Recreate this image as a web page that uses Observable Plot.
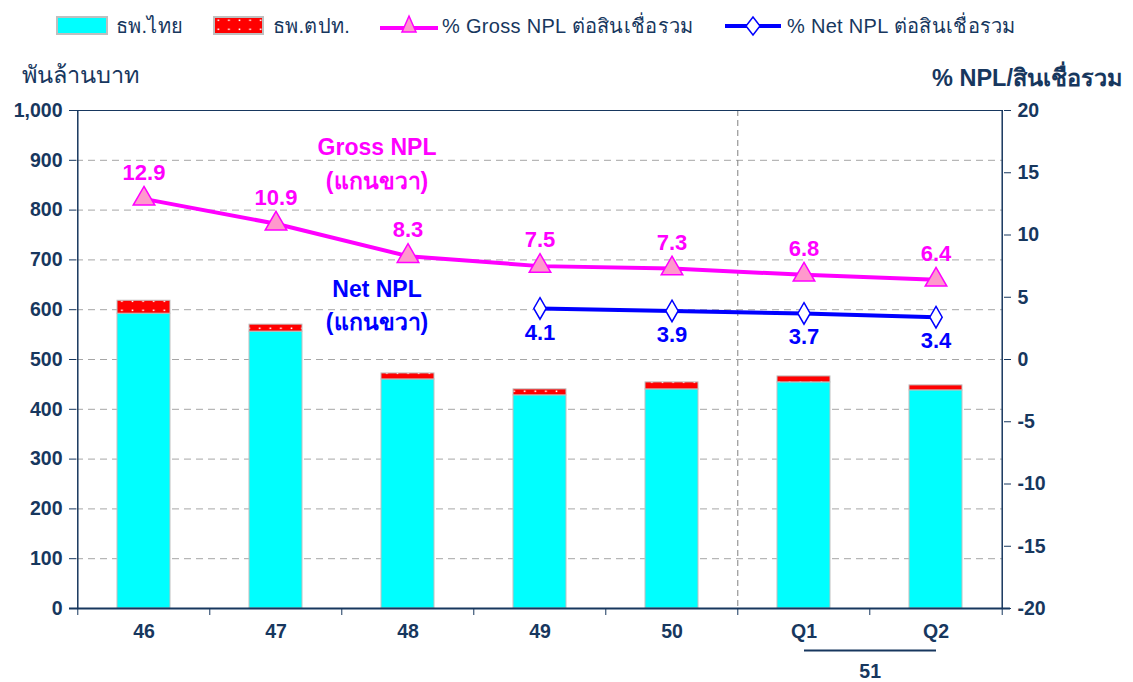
<!DOCTYPE html>
<html><head><meta charset="utf-8">
<script src="https://cdn.jsdelivr.net/npm/d3@7"></script>
<script src="https://cdn.jsdelivr.net/npm/@observablehq/plot@0.6"></script>
<style>
body{margin:0;background:#fff;font-family:"Liberation Sans",Arial,sans-serif;}
#wrap{position:relative;width:1133px;height:682px;}
.lg{position:absolute;top:10px;display:flex;align-items:center;font-size:20px;letter-spacing:0.3px;color:#17375E;white-space:nowrap;}
.ttl{position:absolute;font-size:23.5px;color:#17375E;white-space:nowrap;}
</style></head>
<body>
<div id="wrap"></div>
<script>
const categories = ["46","47","48","49","50","Q1","Q2"];
const thaiBanks = [592,556,460,428,440,454,438];
const foreignBanks = [26,14,12,12,14,12,10];
const grossNPL = [12.9,10.9,8.3,7.5,7.3,6.8,6.4];
const netNPL = [null,null,null,4.1,3.9,3.7,3.4];
const leftTicks = [0,100,200,300,400,500,600,700,800,900,1000];
const rightTicks = [-20,-15,-10,-5,0,5,10,15,20];
const seriesNames = ["ธพ.ไทย","ธพ.ตปท."];
const lineNames = ["% Gross NPL ต่อสินเชื่อรวม","% Net NPL ต่อสินเชื่อรวม"];
const groupLabel = "51";
const groupCats = ["Q1","Q2"];
const annotText = ["Gross NPL","(แกนขวา)","Net NPL","(แกนขวา)"];
const annotY = [17.0,14.3,5.6,3.0];
const annotSeries = ["gross","gross","net","net"];

const W = 1133, H = 682, ML = 76, MR = 130, MT = 110, MB = 74;
const step = (W - ML - MR) / categories.length;
const half = step / 2;
const navy = "#17375E", magenta = "#FF00FF", blue = "#0000FF";
const toLeft = v => (v + 20) * 25; // right axis (-20..20) -> left axis (0..1000)
const pxPerUnit = (H - MT - MB) / 1000;

const stackData = [];
categories.forEach((c,i) => {
  stackData.push({cat:c, type:seriesNames[0], value:thaiBanks[i]});
  stackData.push({cat:c, type:seriesNames[1], value:foreignBanks[i]});
});
const grossData = categories.map((c,i) => ({cat:c, v:grossNPL[i]}));
const netData = categories.map((c,i) => ({cat:c, v:netNPL[i]})).filter(d => d.v != null);
const annots = annotText.map((t,i) => ({t, v:annotY[i], s:annotSeries[i], cat:"48"}));
const font = {fontSize:19.5, fontWeight:"bold", fill:navy};

const chart = Plot.plot({
  width: W, height: H, marginLeft: ML, marginRight: MR, marginTop: MT, marginBottom: MB,
  style: {fontFamily: '"Liberation Sans",Arial,sans-serif', background:"#fff", overflow:"visible"},
  x: {type:"band", domain: categories, paddingInner: 0.6, paddingOuter: 0.3, axis: null},
  y: {domain: [0,1000], axis: null},
  color: {domain: seriesNames, range: ["#00FFFF","url(#reddots)"]},
  marks: [
    Plot.gridY(leftTicks.filter(v => v > 0 && v < 1000), {stroke:"#A6A6A6", strokeOpacity:1, strokeDasharray:"7,5"}),
    Plot.ruleX(["Q1"], {dx:-half, stroke:"#808080", strokeDasharray:"6,4", strokeWidth:1}),
    Plot.barY(stackData, {x:"cat", y:"value", fill:"type", stroke:"#BFBFBF", strokeWidth:1}),
    // frame lines
    Plot.ruleY([1000], {stroke:navy, strokeWidth:1}),
    Plot.ruleX(["46"], {dx:-half, stroke:navy, strokeWidth:1.5}),
    Plot.ruleX(["Q2"], {dx:half, stroke:navy, strokeWidth:1.5}),
    Plot.ruleY([0], {stroke:navy, strokeWidth:2, insetLeft:-7, insetRight:-7}),
    // category boundary ticks
    Plot.ruleX(categories, {dx:-half, y1:0, y2:-7/pxPerUnit, stroke:navy, strokeWidth:1}),
    Plot.ruleX(["Q2"], {dx:half, y1:0, y2:-7/pxPerUnit, stroke:navy, strokeWidth:1}),
    Plot.axisY(leftTicks, {anchor:"left", label:null, tickSize:7, tickPadding:7, stroke:navy, tickFormat: d3.format(","), ...font}),
    Plot.axisY(rightTicks.map(toLeft), {anchor:"right", label:null, tickSize:7, tickPadding:7, stroke:navy, tickFormat: d => String(d/25 - 20), ...font}),
    Plot.axisX({label:null, tickSize:0, tickPadding:16, ...font}),
    // group label 51
    Plot.link([{a:groupCats[0], b:groupCats[1]}], {x1:"a", x2:"b", y1:() => -42/pxPerUnit, y2:() => -42/pxPerUnit, stroke:navy, strokeWidth:2}),
    Plot.text([groupLabel], {x:() => groupCats[0], dx:half, text:d => d, frameAnchor:"bottom", dy:69, ...font}),
    // lines
    Plot.line(grossData, {x:"cat", y:d => toLeft(d.v), stroke:magenta, strokeWidth:4}),
    Plot.dot(grossData, {x:"cat", y:d => toLeft(d.v), symbol:"triangle", r:8, fill:"#FF99CC", stroke:magenta, strokeWidth:1.5}),
    Plot.line(netData, {x:"cat", y:d => toLeft(d.v), stroke:blue, strokeWidth:4}),
    Plot.dot(netData, {x:"cat", y:d => toLeft(d.v), symbol:"diamond", r:6.5, fill:"#fff", stroke:blue, strokeWidth:1.5}),
    Plot.text(grossData, {x:"cat", y:d => toLeft(d.v), text:d => d.v.toFixed(1), dy:-26, fill:magenta, fontSize:22, fontWeight:"bold"}),
    Plot.text(netData, {x:"cat", y:d => toLeft(d.v), text:d => d.v.toFixed(1), dy:24, fill:blue, fontSize:22, fontWeight:"bold"}),
    Plot.text(annots, {x:"cat", y:d => toLeft(d.v), text:"t", dx:-31, fill:d => d.s === "gross" ? magenta : blue, fontSize:23, fontWeight:"bold"})
  ]
});

// dotted red pattern
const ns = "http://www.w3.org/2000/svg";
const defs = document.createElementNS(ns, "defs");
defs.innerHTML = '<pattern id="reddots" width="10.6" height="9" patternUnits="userSpaceOnUse"><rect width="10.6" height="9" fill="#FF0000"/><rect x="4.5" y="3.5" width="1.6" height="1.6" fill="#FFFFFF"/></pattern>';
const svgEl = chart.tagName.toLowerCase() === "svg" ? chart : chart.querySelector("svg");
svgEl.insertBefore(defs, svgEl.firstChild);

const wrap = document.getElementById("wrap");
wrap.appendChild(chart);

// legend & axis titles (HTML)
function addLegend(x, gap, swatchSvg, label) {
  const d = document.createElement("div");
  d.className = "lg"; d.style.left = x + "px";
  d.innerHTML = swatchSvg + '<span style="margin-left:' + gap + 'px">' + label + "</span>";
  wrap.appendChild(d);
}
addLegend(56, 8, '<svg width="52" height="20"><rect x="1" y="1" width="50" height="17" fill="#00FFFF" stroke="#BFBFBF" stroke-width="2"/></svg>', seriesNames[0]);
addLegend(213, 9, '<svg width="51" height="20"><rect x="1" y="1" width="49" height="17" fill="url(#reddots)" stroke="#BFBFBF" stroke-width="2"/></svg>', seriesNames[1]);
addLegend(380, 4, '<svg width="58" height="26"><line x1="0" y1="15" x2="58" y2="15" stroke="#FF00FF" stroke-width="4"/><path d="M29,3 L36,19 L22,19 Z" fill="#FF99CC" stroke="#FF00FF" stroke-width="1.5"/></svg>', lineNames[0]);
addLegend(725, 6, '<svg width="56" height="26"><line x1="0" y1="13" x2="56" y2="13" stroke="#0000FF" stroke-width="4"/><path d="M28,4 L35,13 L28,22 L21,13 Z" fill="#fff" stroke="#0000FF" stroke-width="1.5"/></svg>', lineNames[1]);

const t1 = document.createElement("div");
t1.className = "ttl"; t1.style.left = "22px"; t1.style.top = "56px"; t1.textContent = "พันล้านบาท";
wrap.appendChild(t1);
const t2 = document.createElement("div");
t2.className = "ttl"; t2.style.right = "11px"; t2.style.top = "59px"; t2.style.fontWeight = "bold"; t2.textContent = "% NPL/สินเชื่อรวม";
wrap.appendChild(t2);
</script>
</body></html>
